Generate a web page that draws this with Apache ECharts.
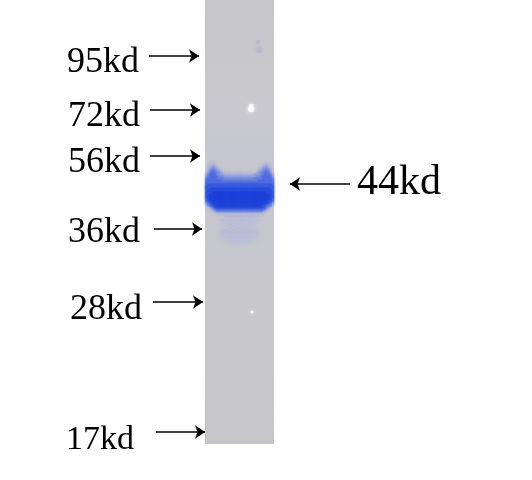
<!DOCTYPE html>
<html><head><meta charset="utf-8">
<style>html,body{margin:0;padding:0;background:#fff}#c{width:532px;height:480px}</style>
<script src="https://cdn.jsdelivr.net/npm/echarts@6/dist/echarts.min.js"></script>
</head><body><div id="c"></div>
<script>
// Marker labels and the migration position (image row) each arrow points at
const markerLabels = ['95kd','72kd','56kd','36kd','28kd','17kd'];
const markerRows   = [56,110,156,229,302,432];
const markerTextX  = [67,68,68,68,70,66];
const markerTextY  = [63,117,163,233,310,440];
const markerSizes  = [36,36,36,36,36,34];
const arrowFrom    = [149,150,150,154,153,156];
const arrowTo      = [199,200,200,202,203,205];
const bandLabel = ['44kd'];
const bandRow = [184];
const bandTextX = [357];
const bandTextY = [183];
const bandArrowFrom = [350];
const bandArrowTo = [290];
// Lane extent
const laneX = [205,274];
const laneY = [0,444];
const laneShades = ['#c6c6ca','#c7c7cb','#c8c8cd','#c8c8ce','#c6c6cf','#c7c7cf','#c7c7ce','#c7c7cc','#c7c7cc','#c7c7cc','#c6c6cb','#c5c5ca'];
// Main band density: 31 columns across the lane width, 2 px rows
const bandStartRow = 162, bandStartCol = 205.5, bandColStep = 2.2, bandRowStep = 2;
const bandDensity = [
 '0011000000000000000000000001100',
 '0012100000000000000000000012100',
 '0123210000000000000000000123210',
 '0134321000000000000000001234310',
 '0245432100000000000000012345420',
 '1356543211111111111111123456531',
 '2466543322222222222222333456642',
 '3566654433333333333333344566653',
 '4666655544444444444444555566664',
 '5666666555555555555555556666665',
 '6666666666666666666666666666666',
 '6777777777777777777777777777776',
 '7777777777777777777777777777777',
 '7788888888888888888888888888877',
 '7888888888888888888888888888887',
 '7889999999999999999999999998887',
 '7899999999999999999999999999987',
 '7899999999999999999999999999987',
 '6899999999999999999999999999986',
 '5789999999999999999999999998875',
 '3578999999999999999999999998753',
 '1467899999999999999999999876541',
 '0135788888888888888888888875310',
 '0013566666666666666666666653100',
 '0001244444444444444444444421000',
 '0000111111111111111111111110000'
];
// Faint lower bands, 4 px cells
const faintStartRow = 214, faintStartCol = 205, faintStep = 4;
const faintDensity = [
 '00000111111110000',
 '00001111111110000',
 '00000011111000000',
 '00000000000000000',
 '00001111111110000',
 '00001111111110000',
 '00000011111000000'
];
const palette = [null,'#bdc0d8','#aeb3da','#95a2de','#7c90e0','#6880e0','#5270e0','#3c5ee0','#2c50de','#1e44d8'];
// Small specks on the membrane: x, y, size, tone index
const specks = [[251,106,4,0],[251,109,6,0],[252,312,3,0],[259,50,6,1],[258,42,4,1]];
const speckTones = ['#ffffff','#b8b8c8'];

const cells = [];
const addCells=(rows,r0,c0,cs,rs)=>rows.forEach((row,r)=>{[...row].forEach((d,c)=>{ if(+d>0) cells.push([c0+c*cs, r0+r*rs, +d, cs, rs]); });});
addCells(faintDensity,faintStartRow,faintStartCol,faintStep,faintStep);
addCells(bandDensity,bandStartRow,bandStartCol,bandColStep,bandRowStep);
cells.sort((a,b)=>a[2]-b[2]);

const chart = echarts.init(document.getElementById('c'),null,{renderer:'canvas'});
const textStyle = {fontFamily:'"Liberation Serif"',color:'#000',opacity:1};
const textData = markerLabels.map((t,i)=>({value:[markerTextX[i],markerTextY[i]],name:t,label:{show:true,formatter:t,position:'right',distance:0,...textStyle,fontSize:markerSizes[i]}}))
  .concat(bandLabel.map((t,i)=>({value:[bandTextX[i],bandTextY[i]],name:t,label:{show:true,formatter:t,position:'right',distance:0,...textStyle,fontSize:42}})));
const arrows = markerRows.map((y,i)=>({coords:[[arrowFrom[i],y],[arrowTo[i],y]]}))
  .concat(bandRow.map((y,i)=>({coords:[[bandArrowFrom[i],y],[bandArrowTo[i],y]]})));
chart.setOption({
  animation:false,
  grid:{left:0,right:0,top:0,bottom:0},
  xAxis:{type:'value',min:0,max:532,show:false},
  yAxis:{type:'value',min:0,max:480,inverse:true,show:false},
  series:[
    {type:'custom',name:'lane',silent:true,data:[[laneX[0],laneY[0],laneX[1],laneY[1]]],clip:false,
     renderItem(p,api){
       const a=api.coord([api.value(0),api.value(1)]),b=api.coord([api.value(2),api.value(3)]);
       return {type:'rect',shape:{x:a[0],y:a[1],width:b[0]-a[0],height:b[1]-a[1]},
         style:{fill:new echarts.graphic.LinearGradient(0,0,0,1,laneShades.map((c,i)=>({offset:i/(laneShades.length-1),color:c})))}};
     }},
    {type:'custom',name:'band',silent:true,data:cells,clip:false,
     renderItem(p,api){
       const cs=api.value(3),rs=api.value(4);
       const a=api.coord([api.value(0),api.value(1)]),b=api.coord([api.value(0)+cs,api.value(1)+rs]);
       const col=palette[api.value(2)];
       return {type:'rect',shape:{x:a[0],y:a[1],width:b[0]-a[0],height:b[1]-a[1]},
         style:{fill:col,stroke:col,lineWidth:0.6,shadowBlur:rs===2?2:5,shadowColor:col}};
     }},
    {type:'scatter',name:'specks',silent:true,data:specks.map(s=>({value:[s[0],s[1]],symbolSize:s[2],itemStyle:{opacity:1,color:speckTones[s[3]],shadowBlur:4,shadowColor:speckTones[s[3]]}}))},
    {type:'lines',name:'arrows',coordinateSystem:'cartesian2d',silent:true,data:arrows,symbol:['none','arrow'],symbolSize:10,
     lineStyle:{color:'#000',width:1.6,opacity:1,curveness:0}},
    {type:'scatter',name:'labels',silent:true,symbolSize:0,itemStyle:{opacity:1},data:textData}
  ]
});
</script></body></html>
